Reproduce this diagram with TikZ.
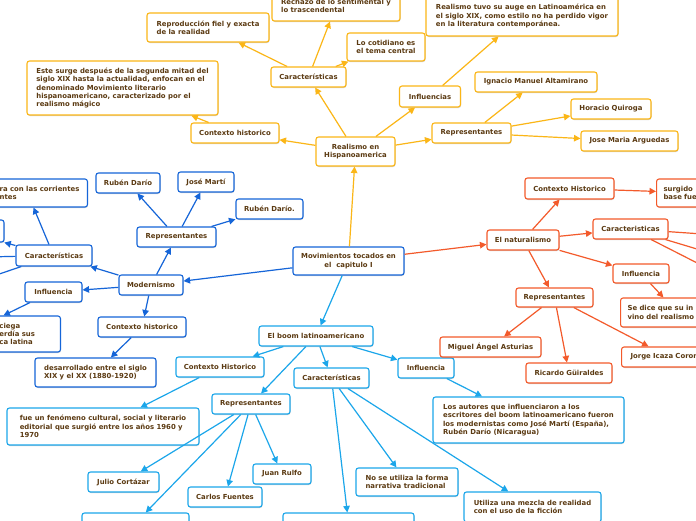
\documentclass[tikz,border=0pt]{standalone}
\usepackage{fontspec}
\setmainfont{DejaVu Sans}
\usetikzlibrary{arrows.meta,shadows}
\definecolor{txtc}{HTML}{5B3A12}
\definecolor{goldc}{HTML}{FBB617}
\definecolor{modc}{HTML}{1565D8}
\definecolor{boomc}{HTML}{1BA6EA}
\definecolor{natc}{HTML}{F35A2B}
\tikzset{
  box/.style={draw, rounded corners=2.5pt, line width=1.1pt, fill=white, inner sep=0pt,
    text=txtc, align=left, font=\fontsize{6.9}{8.4}\selectfont\bfseries,
    drop shadow={shadow xshift=0.5pt, shadow yshift=-1pt, fill=black, opacity=0.18}},
  gbox/.style={box, draw=goldc},
  mbox/.style={box, draw=modc},
  bbox/.style={box, draw=boomc},
  nbox/.style={box, draw=natc},
  arr/.style={line width=1.2pt, -{Triangle[length=6.5pt,width=6.5pt]}},
  garr/.style={arr, color=goldc},
  marr/.style={arr, color=modc},
  barr/.style={arr, color=boomc},
  narr/.style={arr, color=natc},
}
\begin{document}
\begin{tikzpicture}[x=1pt,y=-1pt]
\fill[white] (0,0) rectangle (696,520);
\useasboundingbox (0,0) rectangle (696,520);

% central
\node[mbox, align=center, minimum width=111, minimum height=28] (C) at (348.5,261) {Movimientos tocados en\\el\ \ capitulo I};

% realism
\node[gbox, align=center, minimum width=79, minimum height=29] (R0) at (355.5,151.5) {Realismo en\\Hispanoamerica};
\node[gbox, minimum width=75, minimum height=20] (Rcar) at (308.5,77) {Características};
\node[gbox, minimum width=122, minimum height=29] (Rrep1) at (208,27.5) {Reproducción fiel y exacta\\de la realidad};
\node[gbox, minimum width=128, minimum height=30] (Rrech) at (336,6) {Rechazo de lo sentimental y\\lo trascendental};
\node[gbox, minimum width=78, minimum height=28] (Rcoti) at (386,47) {Lo cotidiano es\\el tema central};
\node[gbox, minimum width=88, minimum height=20] (Rctx) at (235,133) {Contexto historico};
\node[gbox, minimum width=191, minimum height=54] (Reste) at (122.5,88) {Este surge después de la segunda mitad del\\siglo XIX hasta la actualidad, enfocan en el\\denominado Movimiento literario\\hispanoamericano, caracterizado por el\\realismo mágico};
\node[gbox, minimum width=61, minimum height=21] (Rinfl) at (430,96.5) {Influencias};
\node[gbox, minimum width=192, minimum height=40] (Rauge) at (522,16) {Realismo tuvo su auge en Latinoamérica en\\el siglo XIX, como estilo no ha perdido vigor\\en la literatura contemporánea.};
\node[gbox, minimum width=79, minimum height=20] (Rrep) at (471.5,133) {Representantes};
\node[gbox, minimum width=122, minimum height=20] (Rign) at (536,82) {Ignacio Manuel Altamirano};
\node[gbox, minimum width=80, minimum height=20] (Rhor) at (611,109) {Horacio Quiroga};
\node[gbox, minimum width=97, minimum height=20] (Rjose) at (629.5,141) {Jose Maria Arguedas};

\draw[garr] (C) -- (R0);
\draw[garr] (R0) -- (Rcar);
\draw[garr] (Rcar) -- (Rrep1);
\draw[garr] (Rcar) -- (Rrech);
\draw[garr] (Rcar) -- (Rcoti);
\draw[garr] (R0) -- (Rctx);
\draw[garr] (Rctx) -- (Reste);
\draw[garr] (R0) -- (Rinfl);
\draw[garr] (Rinfl) -- (Rauge);
\draw[garr] (R0) -- (Rrep);
\draw[garr] (Rrep) -- (Rign);
\draw[garr] (Rrep) -- (Rhor);
\draw[garr] (Rrep) -- (Rjose);

% modernism
\node[mbox, minimum width=64, minimum height=20] (M0) at (151,285) {Modernismo};
\node[mbox, minimum width=79, minimum height=20] (Mrep) at (176.5,237) {Representantes};
\node[mbox, minimum width=64, minimum height=20] (Mrd1) at (128,183) {Rubén Darío};
\node[mbox, minimum width=56, minimum height=20] (Mjm) at (206,182) {José Martí};
\node[mbox, minimum width=67, minimum height=20] (Mrd2) at (269.5,209) {Rubén Darío.};
\node[mbox, minimum width=76, minimum height=21] (Mcar) at (54,255.5) {Características};
\node[mbox, anchor=east, inner xsep=8pt, minimum height=28] (Mcorr) at (88,193) {ra con las corrientes\\ntes};
\node[mbox, minimum width=88, minimum height=22] (Mc1) at (-40,231) {};
\coordinate (Mc2) at (-60,258);
\coordinate (Mc3) at (-60,294);
\node[mbox, minimum width=57, minimum height=20] (Minfl) at (53.5,292) {Influencia};
\node[mbox, anchor=east, inner xsep=8pt, text width=53pt, minimum height=36] (Mciega) at (61,334) {ciega\\erdía sus\\ca latina};
\node[mbox, minimum width=88, minimum height=20] (Mctx) at (142,327) {Contexto historico};
\node[mbox, minimum width=121, minimum height=29] (Mdes) at (95.5,372.5) {desarrollado entre el siglo\\XIX y el XX (1880-1920)};

\draw[marr] (C) -- (M0);
\draw[marr] (M0) -- (Mrep);
\draw[marr] (Mrep) -- (Mrd1);
\draw[marr] (Mrep) -- (Mjm);
\draw[marr] (Mrep) -- (Mrd2);
\draw[marr] (M0) -- (Mcar);
\draw[marr] ([xshift=-5pt]Mcar.north) -- ([xshift=-6pt]Mcorr.south);
\draw[marr] (Mcar) -- (Mc1);
\draw[marr] (Mcar) -- (Mc2);
\draw[marr] (Mcar) -- (Mc3);
\draw[marr] (M0) -- (Minfl);
\draw[marr] ([xshift=-23.5pt]Minfl.south) -- ([xshift=-22.5pt]Mciega.north);
\draw[marr] (M0) -- (Mctx);
\draw[marr] (Mctx) -- (Mdes);

% boom
\node[bbox, minimum width=114, minimum height=20] (B0) at (316,336) {El boom latinoamericano};
\node[bbox, minimum width=88, minimum height=20] (Bctx) at (220,367) {Contexto Historico};
\node[bbox, minimum width=192, minimum height=37] (Bfue) at (103,426.5) {fue un fenómeno cultural, social y literario\\editorial que surgió entre los años 1960 y\\1970};
\node[bbox, minimum width=78, minimum height=20] (Brep) at (251,404) {Representantes};
\node[bbox, minimum width=71, minimum height=20] (Bjc) at (123.5,482) {Julio Cortázar};
\node[bbox, minimum width=74, minimum height=20] (Bcf) at (225,497) {Carlos Fuentes};
\node[bbox, minimum width=58, minimum height=20] (Bjr) at (282,474) {Juan Rulfo};
\node[bbox, minimum width=107, minimum height=20] (Bx) at (135.5,523) {};
\node[bbox, minimum width=75, minimum height=20] (Bcar) at (331.5,378) {Características};
\node[bbox, minimum width=56, minimum height=20] (Binfl) at (426,368) {Influencia};
\node[bbox, minimum width=191, minimum height=46] (Blos) at (528.5,420) {Los autores que influenciaron a los\\escritores del boom latinoamericano fueron\\los modernistas como José Martí (España),\\Rubén Darío (Nicaragua)};
\node[bbox, minimum width=102, minimum height=28] (Bno) at (407,482) {No se utiliza la forma\\narrativa tradicional};
\node[bbox, minimum width=137, minimum height=30] (Buti) at (532.5,507) {Utiliza una mezcla de realidad\\con el uso de la ficción};
\node[bbox, minimum width=131, minimum height=20] (By) at (348.5,523) {};

\draw[barr] (C) -- (B0);
\draw[barr] (B0) -- (Bctx);
\draw[barr] (Bctx) -- (Bfue);
\draw[barr] (B0) -- (Brep);
\draw[barr] (Brep) -- (Bjc);
\draw[barr] (Brep) -- (Bcf);
\draw[barr] (Brep) -- (Bjr);
\draw[barr] (Brep) -- (Bx);
\draw[barr] (B0) -- (Bcar);
\draw[barr] (Bcar) -- (By);
\draw[barr] (Bcar) -- (Bno);
\draw[barr] (Bcar) -- (Buti);
\draw[barr] (B0) -- (Binfl);
\draw[barr] (Binfl) -- (Blos);

% naturalism
\node[nbox, minimum width=72, minimum height=20] (N0) at (523,240) {El naturalismo};
\node[nbox, minimum width=89, minimum height=21] (Nctx) at (569.5,188.5) {Contexto Historico};
\node[nbox, anchor=west, inner xsep=7pt, text width=80pt, minimum height=28] (Nsur) at (656,193) {surgido\\base fue};
\node[nbox, minimum width=75, minimum height=20] (Ncar) at (630.5,229) {Caracteristicas};
\coordinate (Nc1) at (760,238);
\coordinate (Nc2) at (760,268);
\coordinate (Nc3) at (760,295);
\node[nbox, minimum width=56, minimum height=19] (Ninfl) at (641,273.5) {Influencia};
\node[nbox, anchor=west, inner xsep=7pt, text width=100pt, minimum height=29] (Nsed) at (620,312.5) {Se dice que su in\\vino del realismo};
\node[nbox, minimum width=77, minimum height=19] (Nrep) at (554.5,297.5) {Representantes};
\node[nbox, minimum width=101, minimum height=20] (Nmig) at (490.5,347) {Miguel Ángel Asturias};
\node[nbox, minimum width=86, minimum height=20] (Nric) at (569,373) {Ricardo Güiraldes};
\node[nbox, anchor=west, inner xsep=9pt, text width=100pt, minimum height=20] (Njor) at (621,357) {Jorge Icaza Coron};

\draw[narr] (C) -- (N0);
\draw[narr] (N0) -- (Nctx);
\draw[narr] (Nctx) -- (Nsur);
\draw[narr] (N0) -- (Ncar);
\draw[narr] (Ncar) -- (Nc1);
\draw[narr] (Ncar) -- (Nc2);
\draw[narr] (Ncar) -- (Nc3);
\draw[narr] (N0) -- (Ninfl);
\draw[narr] (Ninfl) -- (Nsed);
\draw[narr] (N0) -- (Nrep);
\draw[narr] (Nrep) -- (Nmig);
\draw[narr] (Nrep) -- (Nric);
\draw[narr] (Nrep) -- ([xshift=-32pt]Njor.north);
\end{tikzpicture}
\end{document}
